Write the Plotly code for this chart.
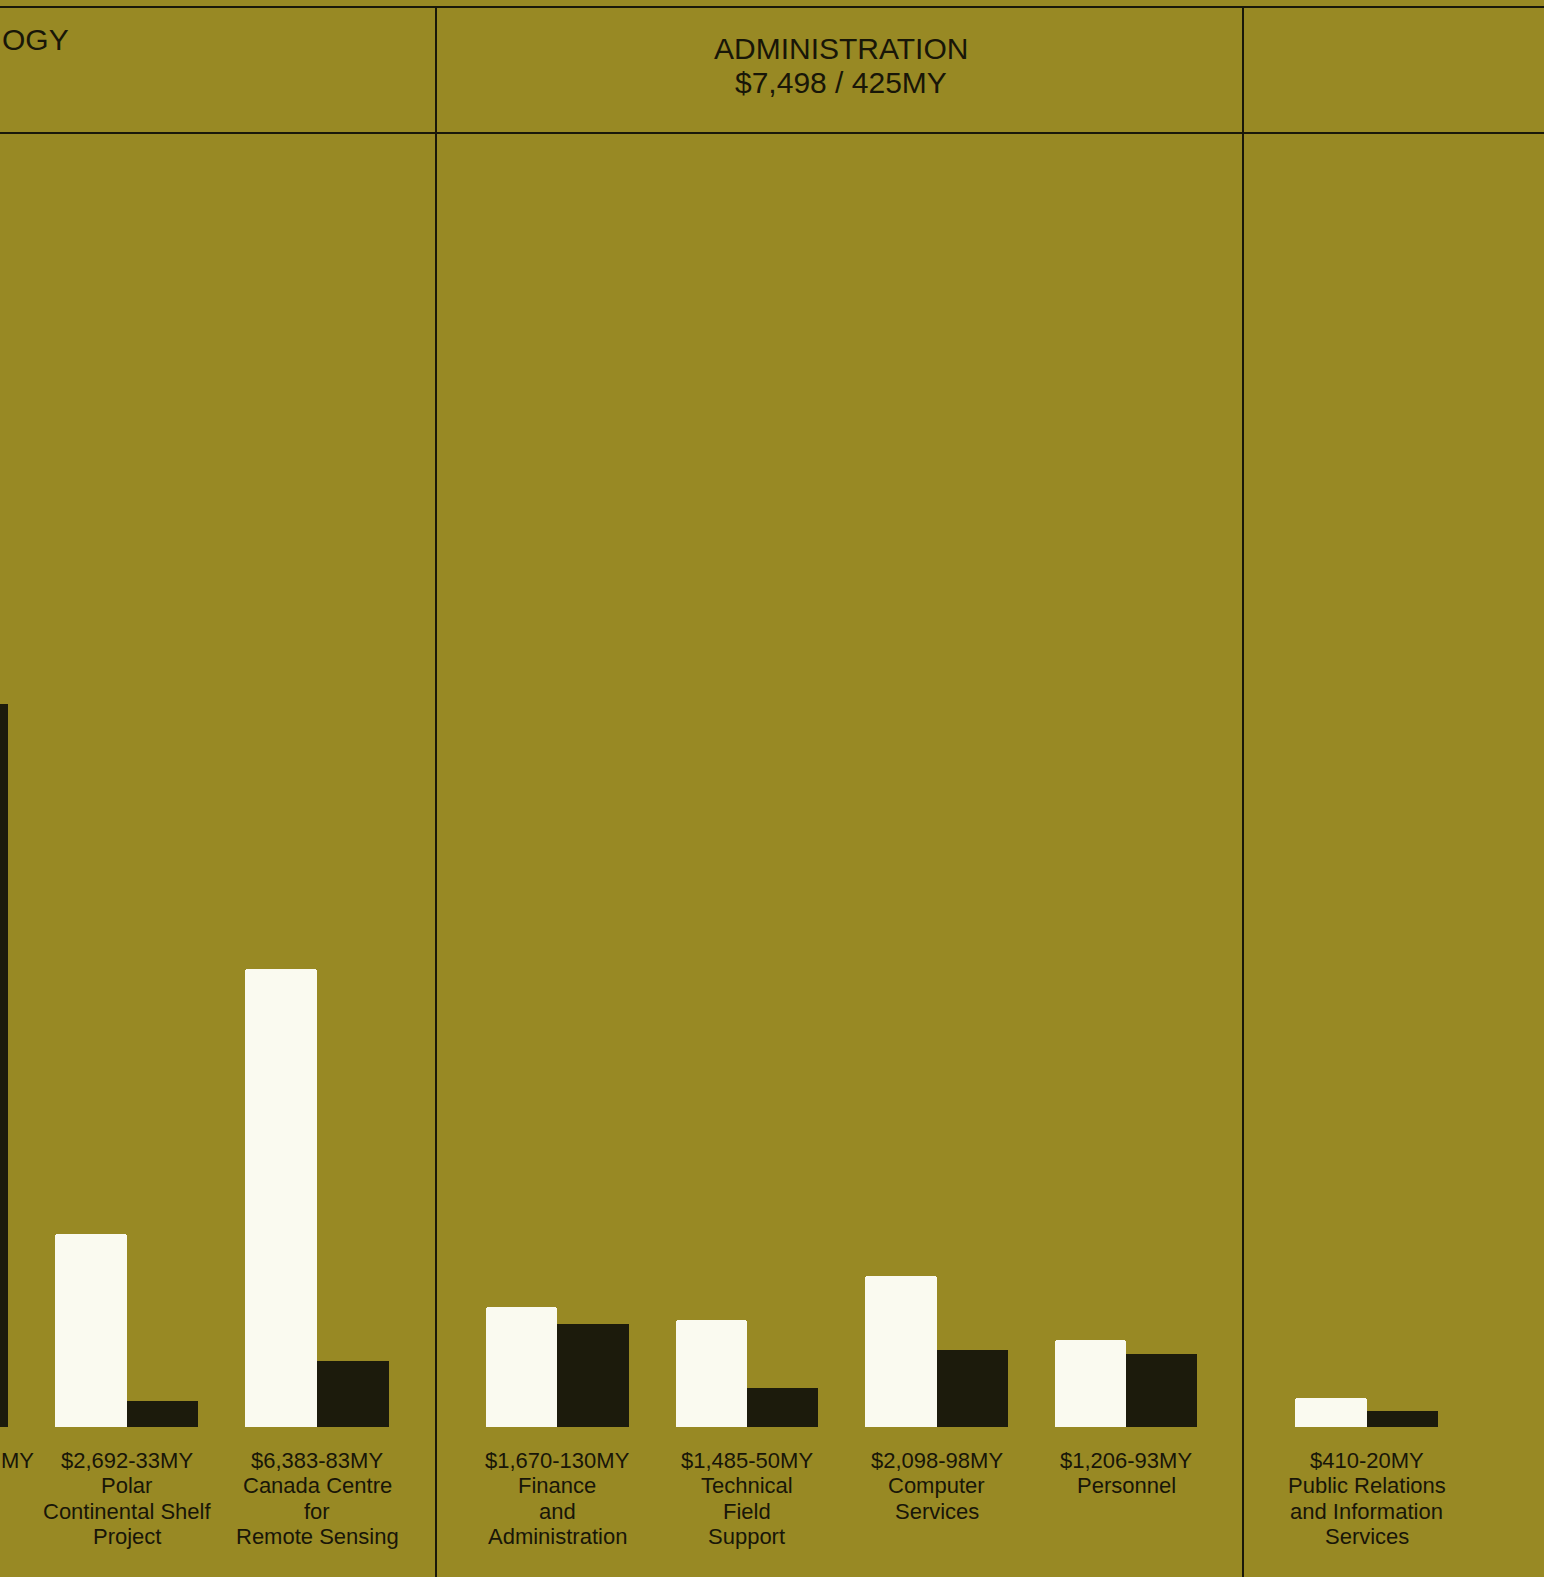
import plotly.graph_objects as go

# ---------------- data ----------------
# Science & Technology panel (left, partly cut off by the page edge)
tech_names = ["(cut off)", "Polar\nContinental Shelf\nProject", "Canada Centre\nfor\nRemote Sensing"]
tech_dollars = [None, 2692, 6383]      # $ thousands
tech_my = [915, 33, 83]                # man-years

# Administration panel
admin_title = "ADMINISTRATION"
admin_total = "$7,498 / 425MY"
admin_names = ["Finance\nand\nAdministration", "Technical\nField\nSupport", "Computer\nServices", "Personnel"]
admin_dollars = [1670, 1485, 2098, 1206]
admin_my = [130, 50, 98, 93]

# Public relations panel (right)
pr_names = ["Public Relations\nand Information\nServices"]
pr_dollars = [410]
pr_my = [20]

partial_header = "OGY"
partial_label = "MY"

# ---------------- layout constants ----------------
W, H = 1544, 1577
BG = "rgb(152,137,36)"
WHITE = "rgb(250,250,240)"
DARK = "rgb(28,27,12)"
TEXT = "rgb(24,22,8)"
BASE = 1427            # baseline pixel
DOLLAR_PX = 0.0718     # px per $ thousand
MY_PX = 0.79           # px per man-year
BW = 0.376             # bar width in category units

def px(x):
    return x / W

def py(y):
    return 1 - y / H

panels = [
    # names, dollars, my, x-domain px, range
    (tech_names, tech_dollars, tech_my, (0, 436), (0.3357, 2.6244)),
    (admin_names, admin_dollars, admin_my, (436, 1244), (-0.6398, 3.6218)),
    (pr_names, pr_dollars, pr_my, (1244, 1544), (-0.6447, 0.9342)),
]

fig = go.Figure()
layout = dict(
    width=W, height=H,
    margin=dict(l=0, r=0, t=0, b=0),
    paper_bgcolor=BG, plot_bgcolor=BG,
    showlegend=False,
    bargap=0, barmode="overlay",
)
annotations = []
LABEL_FONT = dict(family="Liberation Sans, Arial, sans-serif", size=22, color=TEXT)

for p, (names, dollars, mys, (x0, x1), rng) in enumerate(panels):
    xid = "x" if p == 0 else f"x{p+1}"
    yd = 2 * p + 1
    ym = 2 * p + 2
    yid_d = "y" if yd == 1 else f"y{yd}"
    yid_m = f"y{ym}"
    keys = [n.replace("\n", " ") for n in names]

    layout["xaxis" if p == 0 else f"xaxis{p+1}"] = dict(
        domain=[px(x0), px(x1)], range=list(rng), type="category",
        categoryorder="array", categoryarray=keys,
        visible=False, anchor=yid_d, fixedrange=True,
    )
    layout["yaxis" if yd == 1 else f"yaxis{yd}"] = dict(
        domain=[py(BASE), 1], range=[0, BASE / DOLLAR_PX],
        visible=False, anchor=xid,
    )
    layout[f"yaxis{ym}"] = dict(
        domain=[py(BASE), 1], range=[0, BASE / MY_PX],
        visible=False, anchor=xid, overlaying=yid_d,
    )

    fig.add_trace(go.Bar(
        x=keys, y=dollars, xaxis=xid, yaxis=yid_d,
        width=BW, offset=-BW,
        marker=dict(color=WHITE, line=dict(width=0), cornerradius=3),
        hoverinfo="skip",
    ))
    fig.add_trace(go.Bar(
        x=keys, y=mys, xaxis=xid, yaxis=yid_m,
        width=BW, offset=0,
        marker=dict(color=DARK, line=dict(width=0)),
        hoverinfo="skip",
    ))

    # category labels, one annotation per line
    for i, (n, d, m) in enumerate(zip(names, dollars, mys)):
        if d is None:
            continue
        lines = [f"${d:,}-{m}MY"] + n.split("\n")
        for j, ln in enumerate(lines):
            annotations.append(dict(
                x=i, xref=xid, y=py(1460 + 25.6 * j), yref="paper",
                text=ln, showarrow=False, xanchor="center", yanchor="middle",
                font=LABEL_FONT, borderpad=0,
            ))

# partial label of the cut-off category (kept inside the page)
annotations.append(dict(
    x=0, xref="paper", y=py(1460), yref="paper", text=partial_label,
    showarrow=False, xanchor="left", yanchor="middle", font=LABEL_FONT, borderpad=0,
))

# headers
HEAD_FONT = dict(family="Liberation Sans, Arial, sans-serif", size=30, color=TEXT)
annotations.append(dict(
    x=px(841), xref="paper", y=py(48.5), yref="paper", text=admin_title,
    showarrow=False, xanchor="center", yanchor="middle", font=HEAD_FONT, borderpad=0,
))
annotations.append(dict(
    x=px(841), xref="paper", y=py(83), yref="paper", text=admin_total,
    showarrow=False, xanchor="center", yanchor="middle", font=HEAD_FONT, borderpad=0,
))
annotations.append(dict(
    x=0, xref="paper", y=py(39.5), yref="paper", text=partial_header,
    showarrow=False, xanchor="left", yanchor="middle",
    font=dict(family="Liberation Sans, Arial, sans-serif", size=30, color=TEXT),
))
layout["annotations"] = annotations

# frame lines
LC = "rgb(25,24,10)"
shapes = [
    dict(type="line", xref="paper", yref="paper", x0=0, x1=1, y0=py(7), y1=py(7),
         line=dict(color=LC, width=2)),
    dict(type="line", xref="paper", yref="paper", x0=0, x1=1, y0=py(133), y1=py(133),
         line=dict(color=LC, width=2)),
    dict(type="line", xref="paper", yref="paper", x0=px(436), x1=px(436), y0=py(7), y1=0,
         line=dict(color=LC, width=2)),
    dict(type="line", xref="paper", yref="paper", x0=px(1243), x1=px(1243), y0=py(7), y1=0,
         line=dict(color=LC, width=2)),
]
layout["shapes"] = shapes

fig.update_layout(**layout)
fig.write_html("out.html")
